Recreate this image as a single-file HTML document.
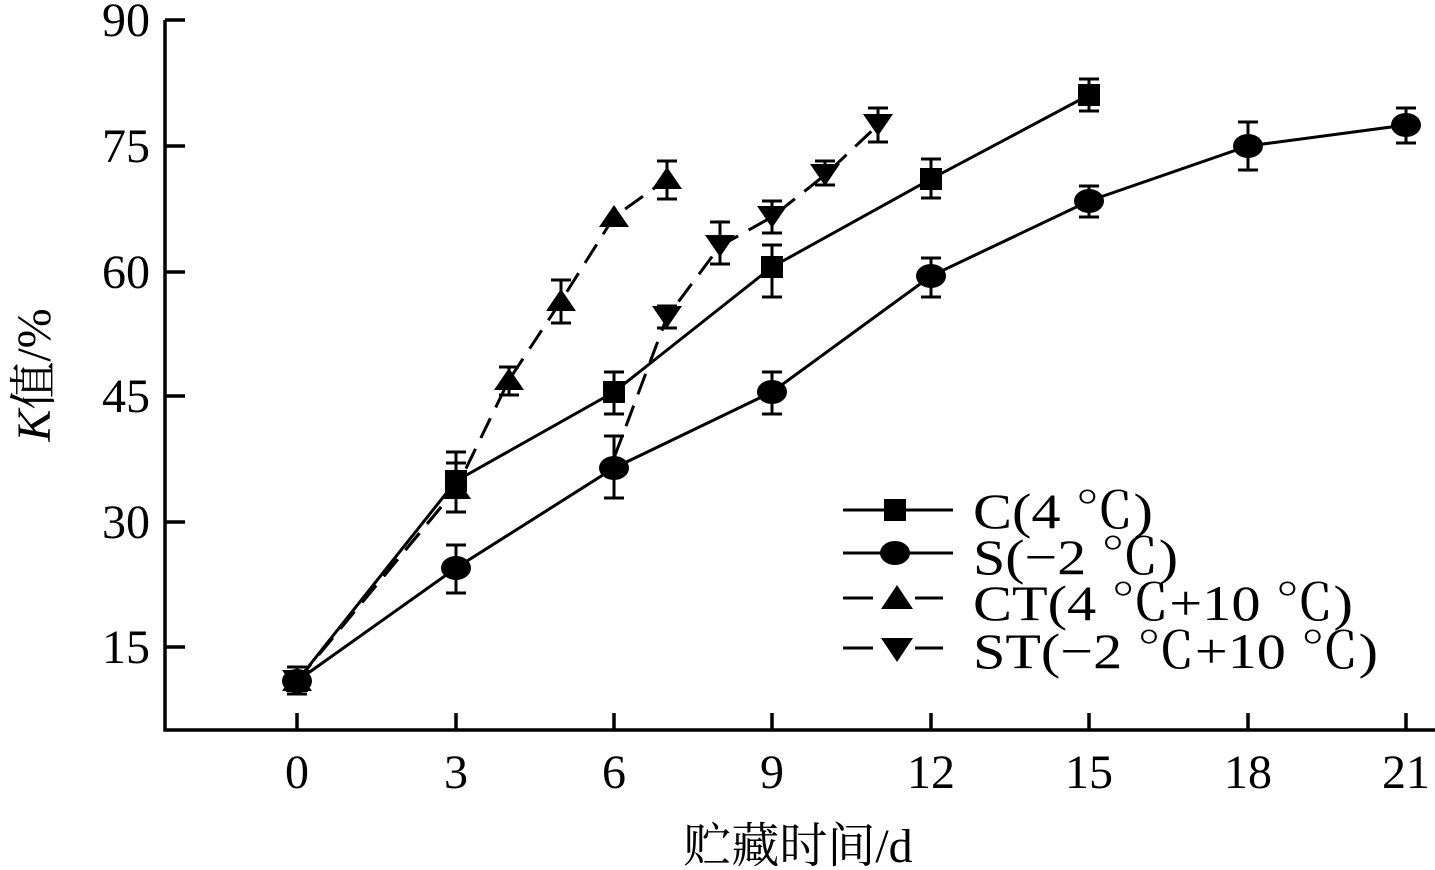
<!DOCTYPE html>
<html><head><meta charset="utf-8"><style>
html,body{margin:0;padding:0;background:#fff;}
svg{display:block;}
text{font-family:"Liberation Serif","Noto Serif CJK SC",serif;fill:#000;}
</style></head><body>
<svg width="1435" height="870" viewBox="0 0 1435 870" xmlns="http://www.w3.org/2000/svg">
<g stroke="#000" stroke-width="3.5" fill="none">
<path d="M165,20 V730 H1435"/>
<path d="M165,20 h20 M165,146 h20 M165,272 h20 M165,396 h20 M165,522 h20 M165,647 h20"/>
<path d="M297,730 v-17 M456,730 v-17 M614,730 v-17 M772,730 v-17 M931,730 v-17 M1089,730 v-17 M1248,730 v-17 M1406,730 v-17"/>
</g>
<g font-size="48" text-anchor="end">
<text x="150" y="36">90</text><text x="150" y="162">75</text><text x="150" y="288">60</text>
<text x="150" y="412">45</text><text x="150" y="538">30</text><text x="150" y="663">15</text>
</g>
<g font-size="48" text-anchor="middle">
<text x="297" y="788">0</text><text x="456" y="788">3</text><text x="614" y="788">6</text><text x="772" y="788">9</text>
<text x="931" y="788">12</text><text x="1089" y="788">15</text><text x="1248" y="788">18</text><text x="1406" y="788">21</text>
</g>
<text x="798" y="862" font-size="48" text-anchor="middle">贮藏时间/d</text>
<text transform="translate(50,375) rotate(-90)" font-size="48" text-anchor="middle"><tspan font-style="italic">K</tspan>值/%</text>

<g stroke="#000" stroke-width="3" fill="none">
<polyline points="297,681 456,481 614,392 772,267 931,179 1089,95"/>
<polyline points="297,681 456,568 614,468 772,392 931,276 1089,201 1248,146 1406,125"/>
<polyline stroke-dasharray="22,12" points="297,681 456,489 509,380 561,301 614,217 667,179"/>
<polyline stroke-dasharray="22,12" points="297,681 456,489"/>
<polyline stroke-dasharray="22,12" points="614,458 667,317 720,246 772,217 825,175 878,125"/>
</g>
<g stroke="#000" stroke-width="3" fill="none">
<path d="M297,667v27 M287,667h20 M287,694h20"/>
<path d="M456,452v60 M446,452h20 M446,463h20 M446,512h20"/>
<path d="M614,372v42 M604,372h20 M604,414h20"/>
<path d="M772,245v52 M762,245h20 M762,297h20"/>
<path d="M931,159v39 M921,159h20 M921,198h20"/>
<path d="M1089,79v32 M1079,79h20 M1079,111h20"/>
<path d="M456,545v48 M446,545h20 M446,593h20"/>
<path d="M614,436v62 M604,436h20 M604,498h20"/>
<path d="M772,372v42 M762,372h20 M762,414h20"/>
<path d="M931,258v39 M921,258h20 M921,297h20"/>
<path d="M1089,186v31 M1079,186h20 M1079,217h20"/>
<path d="M1248,122v48 M1238,122h20 M1238,170h20"/>
<path d="M1406,108v35 M1396,108h20 M1396,143h20"/>
<path d="M509,367v28 M499,367h20 M499,395h20"/>
<path d="M561,280v43 M551,280h20 M551,323h20"/>
<path d="M667,161v38 M657,161h20 M657,199h20"/>
<path d="M720,222v42 M710,222h20 M710,264h20"/>
<path d="M772,201v32 M762,201h20 M762,233h20"/>
<path d="M825,161v24 M815,161h20 M815,185h20"/>
<path d="M878,108v34 M868,108h20 M868,142h20"/>
<path d="M667,306v22 M657,306h20 M657,328h20"/>
</g>
<g fill="#000">
<rect x="286" y="670" width="22" height="22"/>
<rect x="445" y="470" width="22" height="22"/><rect x="603" y="381" width="22" height="22"/>
<rect x="761" y="256" width="22" height="22"/><rect x="920" y="168" width="22" height="22"/>
<rect x="1078" y="84" width="22" height="22"/>
<ellipse cx="297" cy="681" rx="15" ry="12"/><ellipse cx="456" cy="568" rx="15" ry="12"/>
<ellipse cx="614" cy="468" rx="15" ry="12"/><ellipse cx="772" cy="392" rx="15" ry="12"/>
<ellipse cx="931" cy="276" rx="15" ry="12"/><ellipse cx="1089" cy="201" rx="15" ry="12"/>
<ellipse cx="1248" cy="146" rx="15" ry="12"/><ellipse cx="1406" cy="125" rx="15" ry="12"/>
<path d="M297,669l15,22h-30z M456,477l15,22h-30z M509,368l15,22h-30z M561,289l15,22h-30z M614,205l15,22h-30z M667,167l15,22h-30z"/>
<path d="M297,692l15,-22h-30z M667,328l15,-22h-30z M720,257l15,-22h-30z M772,228l15,-22h-30z M825,186l15,-22h-30z M878,136l15,-22h-30z"/>
</g>
<g stroke="#000" stroke-width="3">
<path d="M843,510H953"/><path d="M843,553H953"/>
<path d="M843,598H873 M915,598H943"/><path d="M843,648H873 M915,648H943"/>
</g>
<g fill="#000">
<rect x="884" y="499" width="22" height="22"/>
<ellipse cx="895" cy="553" rx="15" ry="12"/>
<path d="M897,585l16,24h-32z"/><path d="M897,662l16,-24h-32z"/>
</g>
<g font-size="50">
<text x="973" y="528" textLength="180" lengthAdjust="spacingAndGlyphs">C(4 ℃)</text>
<text x="973" y="574" textLength="205" lengthAdjust="spacingAndGlyphs">S(−2 ℃)</text>
<text x="973" y="620" textLength="380" lengthAdjust="spacingAndGlyphs">CT(4 ℃+10 ℃)</text>
<text x="973" y="668" textLength="405" lengthAdjust="spacingAndGlyphs">ST(−2 ℃+10 ℃)</text>
</g>
</svg>
</body></html>
